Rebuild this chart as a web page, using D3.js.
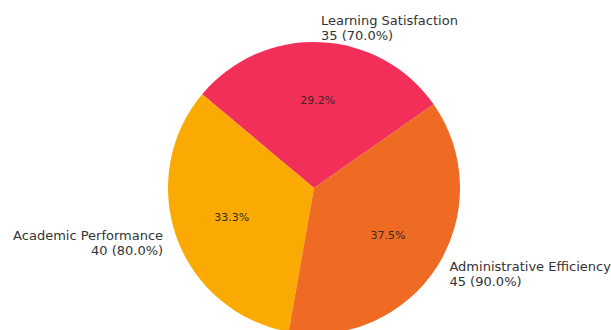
<!DOCTYPE html>
<html>
<head>
<meta charset="utf-8">
<script src="https://cdn.jsdelivr.net/npm/d3@7"></script>
<style>
  body { margin: 0; background: #fff; }
  svg { display: block; font-family: "DejaVu Sans", sans-serif; }
</style>
</head>
<body>
<svg width="611" height="330"></svg>
<script>
// data
var categories = ["Learning Satisfaction", "Academic Performance", "Administrative Efficiency"];
var values = [35, 40, 45];
var scores = [70.0, 80.0, 90.0];   // the percentage shown in brackets
var colors = ["#f22f58", "#fbaa04", "#ef6a23"];

var svg = d3.select("svg");
var cx = 314, cy = 188;
var radius = 146;
var startDeg = 35; // matplotlib-style start angle, counter clockwise

var data = categories.map(function(c, i) {
  return { name: c, value: values[i], score: scores[i], color: colors[i] };
});
var total = d3.sum(values);

// d3 angles: 0 at 12 o'clock, clockwise -> go backwards to get counter clockwise
var a0 = (90 - startDeg) * Math.PI / 180;
var pie = d3.pie()
  .sort(null)
  .value(function(d) { return d.value; })
  .startAngle(a0)
  .endAngle(a0 - 2 * Math.PI);

var arc = d3.arc().innerRadius(0).outerRadius(radius);

var g = svg.append("g")
  .attr("transform", "translate(" + cx + "," + cy + ")");

var arcs = pie(data);

g.selectAll(".slice")
  .data(arcs)
  .enter().append("path")
  .attr("class", "slice")
  .attr("d", arc)
  .attr("fill", function(d) { return d.data.color; });

function mid(d) { return (d.startAngle + d.endAngle) / 2; }

// percentage labels at 0.6 r
g.selectAll(".pct")
  .data(arcs)
  .enter().append("text")
  .attr("class", "pct")
  .attr("x", function(d) { return Math.sin(mid(d)) * radius * 0.6; })
  .attr("y", function(d) { return -Math.cos(mid(d)) * radius * 0.6; })
  .attr("text-anchor", "middle")
  .attr("dominant-baseline", "central")
  .attr("font-size", "11px")
  .attr("fill", "#3a2a26")
  .text(function(d) { return (d.data.value / total * 100).toFixed(1) + "%"; });

// outer labels at 1.1 r
var lineH = 15;
var labels = g.selectAll(".lbl")
  .data(arcs)
  .enter().append("text")
  .attr("class", "lbl")
  .attr("font-size", "13px")
  .attr("fill", "#333")
  .attr("text-anchor", function(d) { return Math.sin(mid(d)) >= 0 ? "start" : "end"; })
  .attr("transform", function(d) {
    var x = Math.sin(mid(d)) * radius * 1.1;
    var y = -Math.cos(mid(d)) * radius * 1.1;
    return "translate(" + x + "," + y + ")";
  });

labels.append("tspan")
  .attr("x", 0)
  .attr("y", -lineH / 2)
  .attr("dominant-baseline", "central")
  .text(function(d) { return d.data.name; });

labels.append("tspan")
  .attr("x", 0)
  .attr("y", lineH / 2)
  .attr("dominant-baseline", "central")
  .text(function(d) { return d.data.value + " (" + d.data.score.toFixed(1) + "%)"; });
</script>
</body>
</html>
